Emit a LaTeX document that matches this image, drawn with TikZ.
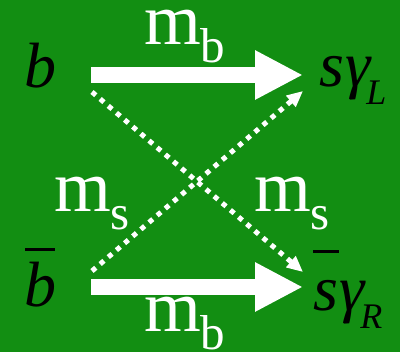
\documentclass[tikz,border=0pt]{standalone}
\usepackage{fontspec}
\setmainfont{Liberation Serif}[ItalicFont={Liberation Serif Italic}]
\usetikzlibrary{arrows.meta}
\definecolor{bggreen}{RGB}{18,142,18}
\newcommand{\bigit}{\fontsize{64}{64}\selectfont\itshape}
\newcommand{\bigrm}{\fontsize{73}{73}\selectfont\upshape}
\newcommand{\subrm}[1]{\raisebox{-18pt}{\fontsize{49}{49}\selectfont #1}}
\newcommand{\subit}[1]{\raisebox{-18pt}{\fontsize{36}{36}\selectfont\itshape #1}}
\begin{document}
\begin{tikzpicture}[x=1pt,y=-1pt,
  quark/.style={anchor=base west,inner sep=0pt,text=black,font=\bigit},
  mass/.style={anchor=base west,inner sep=0pt,text=white,font=\bigrm},
  bigarrow/.style={draw=white,line width=16pt,-{Triangle[length=48pt,width=46pt]}},
  mixarrow/.style={draw=white,line width=5pt,dash pattern=on 5pt off 5.7pt,-{Triangle[length=16pt,width=14pt]}}]
\fill[bggreen] (0,0) rectangle (400,352);
\useasboundingbox (0,0) rectangle (400,352);
% quarks
\node[quark] (b) at (24,88) {b};
\node[quark] (bbar) at (24,307) {\rlap{\kern1pt\raisebox{56pt}{\rule{30pt}{3pt}}}b};
\node[quark] (sL) at (319,87) {s\kern1pt γ\kern-4pt\subit{L}};
\node[quark] (sR) at (313,311) {\rlap{\kern0pt\raisebox{58pt}{\rule{26pt}{3pt}}}s\kern1pt γ\kern-4pt\subit{R}};
% mass labels
\node[mass] (mbt) at (144,45) {m\subrm{b}};
\node[mass] (mbb) at (144,332) {m\subrm{b}};
\node[mass] (msl) at (54,212) {m\subrm{s}};
\node[mass] (msr) at (254,212) {m\subrm{s}};
% arrow end points
\coordinate (t1) at (91,75);
\coordinate (t2) at (303,75);
\coordinate (u1) at (91,287);
\coordinate (u2) at (303,287);
\coordinate (d1) at (92,92);
\coordinate (d2) at (303,272);
\coordinate (e1) at (92,271);
\coordinate (e2) at (303,91);
\draw[bigarrow] (t1) -- (t2);
\draw[bigarrow] (u1) -- (u2);
\draw[mixarrow] (d1) -- (d2);
\draw[mixarrow] (e1) -- (e2);
\end{tikzpicture}
\end{document}
